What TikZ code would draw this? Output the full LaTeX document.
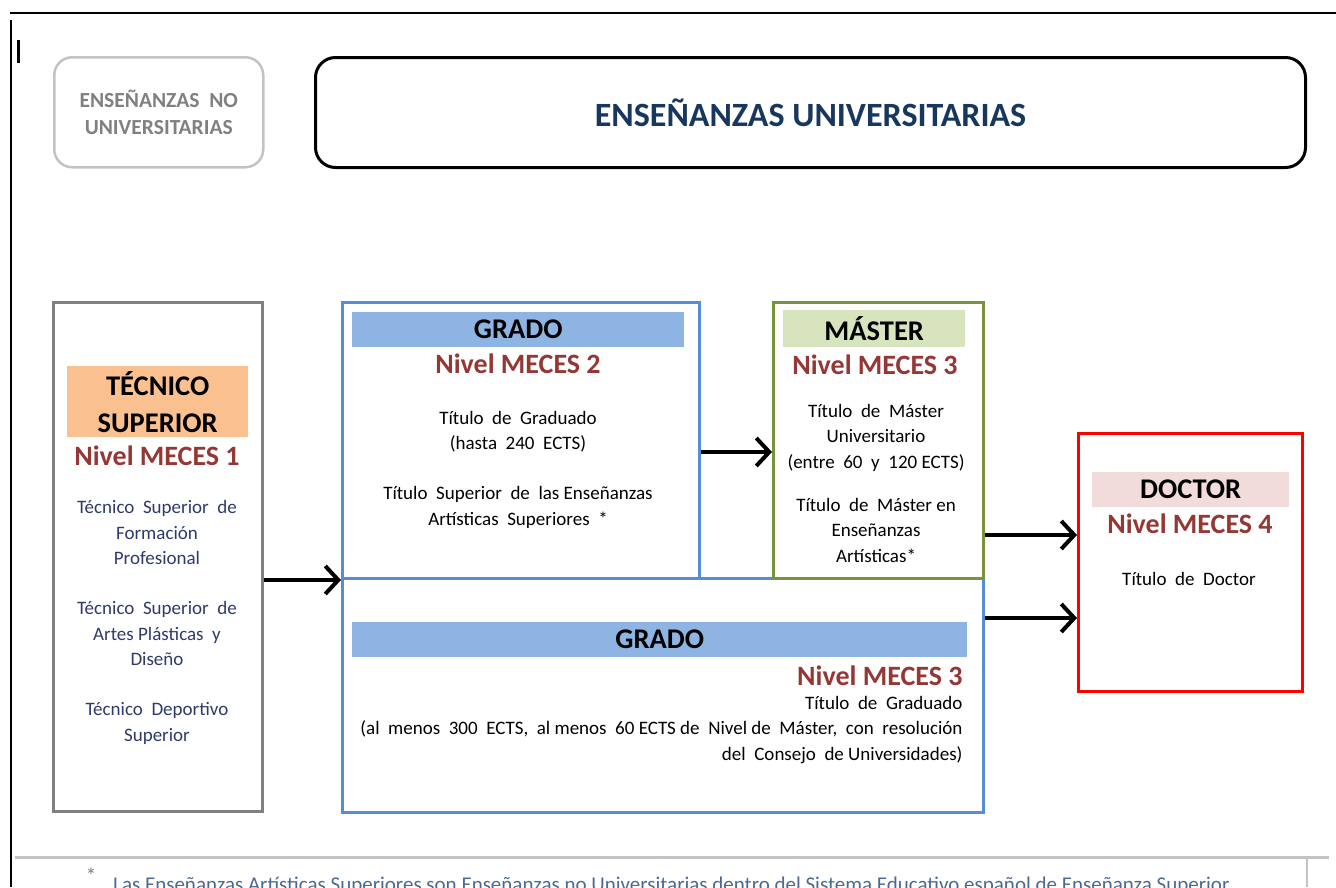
\documentclass[tikz,border=0pt]{standalone}
\usepackage{fontspec}
\setmainfont{Carlito}
\usetikzlibrary{arrows.meta}

\definecolor{boxgray}{HTML}{808080}
\definecolor{lightgray}{HTML}{C3C3C3}
\definecolor{nogray}{HTML}{808080}
\definecolor{navy}{HTML}{17375E}
\definecolor{tecnavy}{HTML}{2E3A6E}
\definecolor{mecesred}{HTML}{953735}
\definecolor{tecorange}{HTML}{FAC090}
\definecolor{gradoblue}{HTML}{558ED5}
\definecolor{gradobar}{HTML}{8EB4E3}
\definecolor{masgreen}{HTML}{77933C}
\definecolor{masbar}{HTML}{D7E4BD}
\definecolor{docred}{HTML}{FF0000}
\definecolor{docbar}{HTML}{F2DCDB}
\definecolor{notegray}{HTML}{4A6A90}

\begin{document}
\begin{tikzpicture}[x=1pt,y=-1pt,
  frame/.style={draw=#1,line width=3pt,anchor=north west,inner sep=0pt},
  bar/.style={fill=#1,anchor=north west,inner sep=0pt,align=center,
    font=\fontsize{28.5}{37}\selectfont\bfseries},
  nivel/.style={text=mecesred,font=\fontsize{28}{30}\selectfont\bfseries},
  txt/.style={align=center,font=\fontsize{19}{25.5}\selectfont},
  arr/.style={line width=4pt,-{Straight Barb[length=13pt,width=28pt]}}]
\useasboundingbox (0,0) rectangle (1336,887);
\clip (0,0) rectangle (1336,887);

% page edges
\draw[line width=2.5pt] (10,13) -- (1336,13);
\draw[line width=2pt] (11,20) -- (11,887);
\draw[line width=3pt] (18.5,40) -- (18.5,63);

% top boxes
\node[draw=lightgray,line width=2.5pt,rounded corners=18pt,anchor=north west,
  minimum width=209pt,minimum height=110pt,text=nogray,align=center,
  font=\fontsize{21.5}{27}\selectfont\bfseries] (nouni) at (53,56)
  {ENSEÑANZAS\ \ NO\\UNIVERSITARIAS};
\node[draw,line width=3pt,rounded corners=20pt,anchor=north west,
  minimum width=990pt,minimum height=110pt,text=navy,
  font=\fontsize{34}{40}\selectfont\bfseries] (uni) at (314,56)
  {ENSEÑANZAS UNIVERSITARIAS};

% frames
\node[frame=boxgray,minimum width=209pt,minimum height=509pt] (tecnico) at (52,301) {};
\node[frame=gradoblue,minimum width=357pt,minimum height=276pt] (grado) at (341,301) {};
\node[frame=gradoblue,minimum width=641pt,minimum height=234pt] (gradol) at (341,577) {};
\node[frame=masgreen,minimum width=210pt,minimum height=276pt] (master) at (772,301) {};
\node[frame=docred,minimum width=224pt,minimum height=258pt] (doctor) at (1077,432) {};

% Tecnico superior
\node[bar=tecorange,minimum width=181pt,minimum height=71pt] (tecbar) at (67,366) {TÉCNICO\\SUPERIOR};
\node[nivel] (tecniv) at (157,456) {Nivel MECES 1};
\node[txt,text=tecnavy] (tectxt) at (157,622.5)
  {Técnico\ \ Superior\ \ de\\Formación\\Profesional\\[24.5pt]
   Técnico\ \ Superior\ \ de\\Artes Plásticas\ \ y\\Diseño\\[24.5pt]
   Técnico\ \ Deportivo\\Superior};

% Grado
\node[bar=gradobar,minimum width=332pt,minimum height=35pt] (gradobar) at (352,312) {GRADO};
\node[nivel] (gradoniv) at (518,364) {Nivel MECES 2};
\node[txt] (gradotxt) at (518,469.5)
  {Título\ \ de\ \ Graduado\\(hasta\ \ 240\ \ ECTS)\\[24.5pt]
   Título\ \ Superior\ \ de\ \ las Enseñanzas\\Artísticas\ \ Superiores\ \ *};

% Master
\node[bar=masbar,minimum width=182pt,minimum height=37pt] (masbar) at (783,310) {MÁSTER};
\node[nivel] (masniv) at (875,365) {Nivel MECES 3};
\node[txt] (mastxt) at (876,483)
  {Título\ \ de\ \ Máster\\Universitario\\(entre\ \ 60\ \ y\ \ 120 ECTS)\\[17.5pt]
   Título\ \ de\ \ Máster en\\Enseñanzas\\Artísticas*};

% Grado largo
\node[bar=gradobar,minimum width=615pt,minimum height=35pt] (gradolbar) at (352,622) {GRADO};
\node[nivel,anchor=east] (gradolniv) at (966,676) {Nivel MECES 3};
\node[txt,align=right,anchor=east] (gradoltxt) at (966,730)
  {Título\ \ de\ \ Graduado\\(al\ \ menos\ \ 300\ \ ECTS,\ \ al menos\ \ 60 ECTS de\ \ Nivel de\ \ Máster,\ \ con\ \ resolución\\
   del\ \ Consejo\ \ de Universidades)};

% Doctor
\node[bar=docbar,minimum width=197pt,minimum height=35pt] (docbar) at (1092,472) {DOCTOR};
\node[nivel] (docniv) at (1190,524) {Nivel MECES 4};
\node[txt] (doctxt) at (1189,579) {Título\ \ de\ \ Doctor};

% arrows
\draw[arr] (tecnico.east |- grado.south west) -- (grado.south west);
\draw[arr] (grado.east |- 0,452) -- (master.west |- 0,452);
\draw[arr] (master.east |- 0,535) -- (doctor.west |- 0,535);
\draw[arr] (gradol.east |- 0,618) -- (doctor.west |- 0,618);

% footnote
\draw[lightgray,line width=3pt] (15,857) -- (1329,857);
\draw[lightgray,line width=2.5pt] (1307,858) -- (1307,887);
\node[text=nogray,font=\fontsize{22}{24}\selectfont] (star) at (91,876) {*};
\node[anchor=base west,inner sep=0pt,text=notegray,font=\fontsize{21}{24}\selectfont] (nota) at (113,891)
  {Las Enseñanzas Artísticas Superiores son Enseñanzas no Universitarias dentro del Sistema Educativo español de Enseñanza Superior};
\end{tikzpicture}
\end{document}
